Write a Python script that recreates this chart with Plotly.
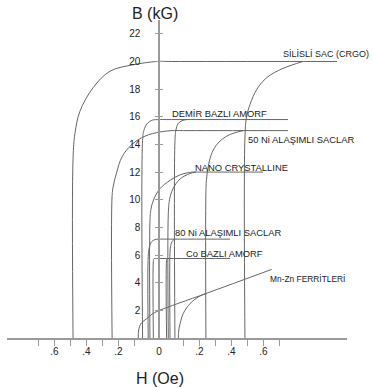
import plotly.graph_objects as go

# ---------------- data (H in Oe, B in kG) ----------------
crgo_left_H = [-0.484, -0.484, -0.472, -0.441, -0.359, -0.253, -0.109, -0.008, 0.05, 1.06]
crgo_left_B = [0, 13.0, 14.8, 16.4, 18.1, 19.3, 19.76, 20.0, 20.0, 20.0]
crgo_right_H = [0.484, 0.484, 0.494, 0.516, 0.559, 0.622, 0.722, 0.847]
crgo_right_B = [0, 14.5, 16.0, 16.9, 18.0, 18.85, 19.5, 20.0]

demir_left_H = [-0.067, -0.067, -0.062, -0.049, -0.029, 0.0, 0.03, 0.753]
demir_left_B = [0, 14.3, 15.0, 15.5, 15.75, 15.8, 15.8, 15.8]
demir_right_H = [0.065, 0.065, 0.069, 0.078, 0.094, 0.122]
demir_right_B = [0, 14.2, 15.05, 15.5, 15.72, 15.8]

ni50_left_H = [-0.24, -0.24, -0.2325, -0.211, -0.178, -0.116, -0.057, 0.004, 0.053, 0.1, 0.753]
ni50_left_B = [0, 10.3, 11.0, 12.0, 13.1, 14.0, 14.6, 14.9, 15.0, 15.0, 15.0]
ni50_right_H = [0.24, 0.24, 0.244, 0.256, 0.278, 0.316, 0.378, 0.472]
ni50_right_B = [0, 10.5, 11.5, 12.5, 13.4, 14.1, 14.65, 15.0]

nano_left_H = [-0.037, -0.037, -0.033, -0.022, 0.004, 0.045, 0.086, 0.153, 0.2, 0.597]
nano_left_B = [0, 8.4, 9.3, 10.0, 10.8, 11.4, 11.8, 12.0, 12.0, 12.0]
nano_right_H = [0.038, 0.038, 0.043, 0.057, 0.086, 0.141, 0.178]
nano_right_B = [0, 9.0, 10.0, 10.8, 11.5, 11.9, 12.0]

ni80_left_H = [-0.044, -0.044, -0.040, -0.031, -0.016, 0.0, 0.03, 0.391]
ni80_left_B = [0, 5.9, 6.5, 6.95, 7.12, 7.15, 7.15, 7.15]
ni80_right_H = [0.045, 0.045, 0.048, 0.054, 0.065]
ni80_right_B = [0, 6.2, 6.7, 7.0, 7.15]

co_left_H = [-0.023, -0.023, -0.021, -0.016, 0.0, 0.391]
co_left_B = [0, 5.55, 5.72, 5.75, 5.75, 5.75]
co_right_H = [0.031, 0.031, 0.033, 0.037]
co_right_B = [0, 5.6, 5.73, 5.75]

mnzn_left_H = [-0.0845, -0.084, -0.080, -0.071, -0.050, -0.029, -0.003, 0.241, 0.651]
mnzn_left_B = [0, 0.4, 0.8, 1.1, 1.4, 1.72, 1.96, 3.22, 4.96]
mnzn_right_H = [0.079, 0.0795, 0.083, 0.099, 0.141, 0.1925, 0.241]
mnzn_right_B = [0, 0.4, 0.8, 1.77, 2.49, 2.97, 3.22]

label_texts = ["SİLİSLİ SAC (CRGO)", "DEMİR BAZLI AMORF", "50 Ni ALAŞIMLI SACLAR",
               "NANO CRYSTALLINE", "80 Ni ALAŞIMLI SACLAR", "Co BAZLI AMORF",
               "Mn-Zn FERRİTLERİ"]
label_H = [0.72, 0.055, 0.505, 0.172, 0.0665, 0.114, 0.6375]
label_B = [20.52, 16.22, 14.38, 12.33, 7.63, 6.14, 4.29]
label_size = [9.0, 9.4, 9.4, 9.4, 9.4, 9.4, 8.4]

x_ticks_H = [-0.7, -0.6, -0.5, -0.4, -0.3, -0.2, -0.1, 0.1, 0.2, 0.3, 0.4, 0.5, 0.6, 0.7]
x_label_H = [-0.6, -0.4, -0.2, 0.0, 0.2, 0.4, 0.6]
x_label_text = [".6", ".4", ".2", "0", ".2", ".4", ".6"]
y_ticks_B = [2, 4, 6, 8, 10, 12, 14, 16, 18, 20, 22]


# schematic H scale: the region |H| <= 0.1 Oe is stretched
def hx(h):
    s = 1 if h >= 0 else -1
    a = abs(h)
    return s * (a * 245 if a <= 0.1 else 24.5 + (a - 0.1) * 160)


X_RANGE = [-152, 188]
Y_RANGE = [0, 23]
CURVE = "#666666"
AXIS = "#9a9a9a"
FONT = "Liberation Sans, Arial, sans-serif"

curves = [
    (crgo_left_H, crgo_left_B), (crgo_right_H, crgo_right_B),
    (demir_left_H, demir_left_B), (demir_right_H, demir_right_B),
    (ni50_left_H, ni50_left_B), (ni50_right_H, ni50_right_B),
    (nano_left_H, nano_left_B), (nano_right_H, nano_right_B),
    (ni80_left_H, ni80_left_B), (ni80_right_H, ni80_right_B),
    (co_left_H, co_left_B), (co_right_H, co_right_B),
    (mnzn_left_H, mnzn_left_B), (mnzn_right_H, mnzn_right_B),
]

fig = go.Figure()
for hs, bs in curves:
    fig.add_trace(go.Scatter(
        x=[hx(h) for h in hs], y=bs, mode="lines",
        line=dict(color=CURVE, width=1, shape="spline", smoothing=1),
        hoverinfo="skip", showlegend=False, cliponaxis=False))

# dummy trace so the overlaying axes are drawn
fig.add_trace(go.Scatter(x=[0], y=[0], xaxis="x2", yaxis="y2", mode="markers",
                         marker=dict(opacity=0), hoverinfo="skip", showlegend=False))

pos0 = (0 - X_RANGE[0]) / (X_RANGE[1] - X_RANGE[0])

fig.update_layout(
    width=372, height=388,
    margin=dict(l=7, r=25, t=20, b=50),
    paper_bgcolor="white", plot_bgcolor="white",
    font=dict(family=FONT, color="#222", size=10),
    xaxis=dict(range=X_RANGE, domain=[0, 1], anchor="y",
               showline=True, linecolor=AXIS, linewidth=1.5,
               showgrid=False, zeroline=False,
               tickmode="array", tickvals=[hx(h) for h in x_ticks_H],
               ticks="outside", ticklen=6, tickcolor=AXIS, tickwidth=1,
               showticklabels=False, fixedrange=True),
    xaxis2=dict(range=X_RANGE, overlaying="x", anchor="y", side="bottom",
                showline=False, showgrid=False, zeroline=False,
                tickmode="array", tickvals=[hx(h) for h in x_label_H],
                ticktext=x_label_text, ticks="", ticklabelstandoff=6,
                tickfont=dict(size=10, color="#222"), fixedrange=True),
    yaxis=dict(range=Y_RANGE, domain=[0, 1], anchor="free", position=pos0,
               showline=True, linecolor=AXIS, linewidth=1.5,
               showgrid=False, zeroline=False,
               tickmode="array", tickvals=y_ticks_B,
               ticks="outside", ticklen=3, tickcolor=AXIS, tickwidth=1,
               ticklabelstandoff=13,
               tickfont=dict(size=10, color="#222"), fixedrange=True),
    yaxis2=dict(range=Y_RANGE, overlaying="y", anchor="free", position=pos0,
                side="right", showline=False, showgrid=False, zeroline=False,
                tickmode="array", tickvals=y_ticks_B,
                ticks="outside", ticklen=3, tickcolor=AXIS, tickwidth=1,
                showticklabels=False, fixedrange=True),
)

for t, h, b, s in zip(label_texts, label_H, label_B, label_size):
    fig.add_annotation(x=hx(h), y=b, xref="x", yref="y", text=t, showarrow=False,
                       xanchor="left", yanchor="middle", xshift=-2,
                       font=dict(size=s, color="#222", family=FONT))

# axis titles (paper coordinates, placed outside the plot area)
fig.add_annotation(x=0.4353, y=1.022, xref="paper", yref="paper", text="B (kG)",
                   showarrow=False, xanchor="center", yanchor="middle",
                   font=dict(size=16, color="#222", family=FONT))
fig.add_annotation(x=0.449, y=-0.126, xref="paper", yref="paper", text="H (Oe)",
                   showarrow=False, xanchor="center", yanchor="middle",
                   font=dict(size=16, color="#222", family=FONT))

fig.write_html("out.html", config={"displayModeBar": False},
               post_script="document.body.style.margin='0px';")
